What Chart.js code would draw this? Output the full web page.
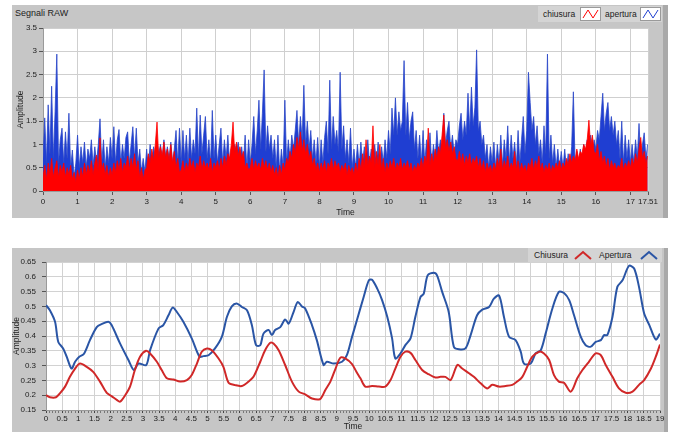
<!DOCTYPE html>
<html><head><meta charset="utf-8">
<script src="https://cdn.jsdelivr.net/npm/chart.js@4"></script>
<style>
body{margin:0;background:#fff;width:676px;height:432px;overflow:hidden;position:relative;font-family:'Liberation Sans',Arial,sans-serif;color:#222;}
.panel{position:absolute;background:#c6c6c6;}
.strip{position:absolute;background:#a9a9a9;}
canvas{position:absolute;}
.txt{position:absolute;font-size:8.5px;line-height:14px;white-space:nowrap;}
.lg{position:absolute;background:#d4d4d4;}
.ico{position:absolute;}
</style></head>
<body>
<div class="panel" style="left:12px;top:5px;width:656px;height:213px"></div>
<div class="strip" style="left:663px;top:5px;width:5px;height:213px"></div>
<div class="panel" style="left:12px;top:248px;width:656px;height:184px"></div>
<div class="strip" style="left:664px;top:248px;width:4px;height:184px"></div>

<div class="txt" style="left:15px;top:6px;font-size:9px">Segnali RAW</div>
<div class="lg" style="left:538px;top:6px;width:124px;height:16px"></div>
<div class="txt" style="left:543px;top:7px">chiusura</div>
<svg class="ico" style="left:580px;top:7px" width="21" height="14"><rect x="0.5" y="0.5" width="20" height="13" fill="#fff" stroke="#9a9a9a"/><polyline points="3,11 8,3 13,11 18,3" fill="none" stroke="#ff0000" stroke-width="1"/></svg>
<div class="txt" style="left:605px;top:7px">apertura</div>
<svg class="ico" style="left:640px;top:7px" width="21" height="14"><rect x="0.5" y="0.5" width="20" height="13" fill="#fff" stroke="#9a9a9a"/><polyline points="3,11 8,3 13,11 18,3" fill="none" stroke="#2040d0" stroke-width="1"/></svg>

<div class="lg" style="left:528px;top:248px;width:134px;height:14px"></div>
<div class="txt" style="left:534px;top:248px">Chiusura</div>
<svg class="ico" style="left:572px;top:249px" width="22" height="12"><polyline points="3,10 11,3 19,10" fill="none" stroke="#d02828" stroke-width="2"/></svg>
<div class="txt" style="left:599px;top:248px">Apertura</div>
<svg class="ico" style="left:638px;top:249px" width="22" height="12"><polyline points="3,10 11,3 19,10" fill="none" stroke="#2a55a5" stroke-width="2"/></svg>

<canvas id="c1" width="656" height="213" style="left:12px;top:5px"></canvas>
<canvas id="c2" width="656" height="184" style="left:12px;top:248px"></canvas>

<script>
// ---------- Top chart: raw signals (sampled every 0.05 s) ----------
const rawStep = 0.05;
const chiusuraRaw = [
0.3,0.55,0.25,0.6,0.35,0.7,0.3,0.5,0.65,0.3,0.55,0.4,0.6,0.3,0.5,0.35,0.55,0.25,0.4,0.2,
0.45,0.25,0.5,0.3,0.6,0.35,0.55,0.4,0.65,0.35,0.6,0.77,0.4,1.14,0.45,0.6,0.35,0.55,0.3,0.5,
0.35,0.6,0.4,0.65,0.45,0.7,0.4,0.6,0.5,0.75,0.45,0.7,0.5,0.8,0.45,0.65,0.3,0.5,0.25,0.45,
0.5,0.8,0.6,0.9,0.65,1.0,1.48,0.7,0.95,0.75,1.05,0.7,0.9,0.65,1.0,0.6,0.85,0.5,0.7,0.4,
0.45,0.65,0.4,0.6,0.45,0.7,0.5,0.65,0.4,0.6,0.5,0.75,0.45,0.65,0.5,0.6,0.45,0.7,0.4,0.6,
0.5,0.65,0.45,0.7,0.5,0.75,0.55,0.8,0.7,1.0,1.48,0.8,1.05,0.75,0.95,0.7,0.85,0.5,0.6,0.45,
0.5,0.7,0.45,0.65,0.5,0.6,0.45,0.7,0.5,0.65,0.45,0.6,0.4,0.55,0.35,0.5,0.3,0.55,0.35,0.6,
0.45,0.7,0.6,0.85,0.7,1.0,0.8,1.15,0.9,1.27,0.85,1.1,0.8,1.0,0.7,0.85,0.55,0.7,0.45,0.6,
0.4,0.6,0.45,0.65,0.4,0.6,0.5,0.7,0.45,0.65,0.5,0.6,0.4,0.55,0.45,0.6,0.35,0.55,0.4,0.5,
0.35,0.6,0.4,0.7,0.45,0.8,0.5,1.1,0.55,0.75,0.6,1.4,0.5,0.85,0.55,1.0,0.45,0.7,0.4,0.6,
0.45,0.65,0.5,0.7,0.45,0.6,0.5,0.7,0.45,0.6,0.5,0.65,0.45,0.6,0.4,0.55,0.45,0.6,0.5,0.7,
0.5,0.75,0.6,1.35,0.55,0.8,0.6,0.9,0.7,0.95,0.8,1.2,1.63,0.9,1.1,0.85,1.05,0.8,0.95,0.7,
0.65,0.85,0.6,0.8,0.55,0.75,0.6,0.8,0.55,0.7,0.6,0.75,0.5,0.7,0.45,0.65,0.4,0.6,0.45,0.55,
0.4,0.6,0.45,0.7,0.5,0.9,0.45,0.65,0.5,0.75,0.45,0.6,0.5,0.85,0.45,0.65,0.4,0.6,0.45,0.55,
0.4,0.6,0.5,0.7,0.45,0.65,0.5,0.75,0.45,0.6,0.4,0.55,0.45,0.6,0.4,0.55,0.45,0.6,0.5,0.65,
0.45,0.6,0.5,0.7,0.55,0.8,0.6,0.75,0.65,0.9,0.7,0.85,0.8,1.0,0.9,1.1,1.52,0.95,1.2,0.85,
0.8,1.0,0.65,0.85,0.6,0.75,0.5,0.7,0.45,0.65,0.5,0.6,0.45,0.55,0.5,0.7,0.45,0.6,0.5,0.65,
0.5,0.7,0.55,0.8,0.6,0.9,1.15,0.7,0.85,0.6,0.75];
const aperturaRaw = [
0.7,1.57,0.6,1.85,0.8,2.25,0.7,1.7,2.94,0.6,1.1,1.35,0.6,1.27,0.7,1.67,0.5,0.88,0.3,0.6,
1.2,0.5,0.95,0.6,1.05,0.5,0.9,0.7,1.1,0.55,0.95,0.6,1.0,1.55,0.6,1.1,0.5,0.95,0.6,1.15,
0.7,1.38,0.6,1.1,1.32,0.6,1.0,0.7,1.15,1.27,0.6,1.0,1.38,0.7,1.35,0.6,0.9,0.4,0.7,0.4,
0.9,0.5,1.0,0.6,0.95,0.7,1.05,0.8,1.0,0.7,1.1,0.75,0.95,0.7,1.05,0.6,0.9,1.3,0.6,1.35,
0.6,1.3,0.7,1.2,0.6,1.35,0.7,1.1,0.8,1.78,0.7,1.63,0.8,1.2,1.6,0.7,1.1,0.6,1.73,0.7,
1.2,0.6,1.0,1.35,0.6,1.1,0.7,1.2,0.6,0.9,0.7,1.0,0.8,1.05,0.7,0.95,0.6,1.2,0.5,1.1,
0.6,1.0,1.6,0.8,1.3,1.95,0.9,1.67,2.6,0.85,1.4,0.9,1.2,0.7,1.1,0.5,1.2,0.4,0.9,0.5,
1.95,0.6,1.1,0.7,1.2,0.9,1.3,1.73,1.0,1.6,1.1,2.27,1.0,1.5,0.9,1.3,0.7,1.1,0.6,1.15,
0.5,1.1,0.6,1.15,1.5,0.8,2.38,0.9,1.6,1.0,1.3,0.85,2.55,0.9,1.4,0.7,1.1,0.6,1.35,0.5,
0.9,0.5,1.0,0.55,1.05,0.6,0.95,0.5,1.1,0.6,0.9,0.55,1.0,0.6,1.05,0.5,0.95,0.6,1.1,0.7,
1.3,0.8,1.78,1.2,2.0,1.2,1.7,1.3,1.5,2.8,1.2,1.9,1.1,1.5,1.7,0.9,1.3,0.7,1.2,0.6,
1.3,0.6,1.1,0.7,1.25,0.6,1.0,0.7,1.3,0.8,1.1,0.9,1.67,1.0,1.3,1.5,0.9,1.2,0.8,1.1,
1.0,1.4,1.67,1.1,1.5,1.2,2.1,1.3,2.23,1.4,1.8,3.03,1.3,1.5,1.0,1.2,0.7,1.0,0.5,0.95,
0.6,1.05,0.5,1.0,0.6,1.2,0.55,1.1,0.7,1.4,0.6,1.2,0.7,1.05,0.55,1.3,0.6,1.1,1.6,0.8,
1.3,2.55,1.9,1.3,1.6,1.0,1.4,0.8,1.1,0.6,1.4,0.8,2.94,0.7,1.2,0.6,1.0,0.5,0.9,0.5,
0.85,0.5,0.9,0.45,0.8,0.5,0.95,2.13,0.6,0.85,0.5,0.9,0.6,1.0,0.7,1.1,0.8,1.2,0.8,1.1,
0.9,1.3,1.1,1.6,2.1,1.3,1.67,1.9,1.3,1.6,1.2,1.5,1.0,1.3,0.7,1.5,0.6,1.2,0.7,1.1,
0.6,1.0,0.6,1.1,0.7,1.45,0.7,1.0,1.25,0.7,1.0];
const rawXTicks = [0,1,2,3,4,5,6,7,8,9,10,11,12,13,14,15,16,17,17.51];
const rawYTicks = [0,0.5,1,1.5,2,2.5,3,3.5];

// ---------- Bottom chart: smoothed envelopes ----------
const chiusuraT = [0,0.12,0.31,0.43,0.59,0.74,0.9,1.05,1.26,1.46,1.67,1.88,2.03,2.19,2.29,2.45,2.6,2.75,2.91,3.1,3.22,3.43,3.58,3.74,3.94,4.15,4.36,4.51,4.67,4.82,4.98,5.13,5.34,5.49,5.65,5.85,6.06,6.27,6.42,6.63,6.78,6.94,7.04,7.2,7.4,7.61,7.82,8.02,8.23,8.48,8.64,8.8,8.96,9.11,9.26,9.47,9.6,9.73,9.88,10.09,10.3,10.5,10.66,10.81,10.97,11.12,11.28,11.43,11.64,11.84,12.05,12.21,12.36,12.52,12.73,12.88,13.09,13.24,13.45,13.65,13.81,14.02,14.22,14.43,14.58,14.74,14.89,15.05,15.26,15.41,15.57,15.72,15.87,16.03,16.24,16.44,16.6,16.8,17.01,17.17,17.32,17.53,17.73,17.94,18.15,18.35,18.51,18.72,18.87,19.0];
const chiusuraV = [0.2,0.193,0.193,0.206,0.229,0.262,0.29,0.307,0.296,0.279,0.246,0.208,0.197,0.184,0.178,0.2,0.229,0.285,0.33,0.35,0.341,0.313,0.285,0.257,0.253,0.246,0.251,0.268,0.307,0.347,0.358,0.352,0.324,0.296,0.242,0.234,0.231,0.246,0.262,0.313,0.352,0.377,0.375,0.352,0.302,0.246,0.212,0.203,0.189,0.187,0.217,0.246,0.29,0.327,0.324,0.305,0.28,0.257,0.229,0.231,0.229,0.229,0.251,0.29,0.33,0.347,0.343,0.319,0.285,0.271,0.26,0.262,0.262,0.251,0.302,0.29,0.274,0.262,0.24,0.223,0.235,0.229,0.231,0.235,0.246,0.262,0.296,0.33,0.347,0.341,0.319,0.268,0.246,0.242,0.212,0.257,0.285,0.313,0.341,0.335,0.302,0.262,0.223,0.208,0.212,0.235,0.251,0.29,0.33,0.371];
const aperturaT = [0,0.12,0.28,0.38,0.53,0.64,0.79,0.9,1.03,1.17,1.36,1.57,1.72,1.93,2.03,2.29,2.55,2.72,2.86,3.1,3.22,3.48,3.63,3.79,3.92,4.05,4.25,4.51,4.75,4.87,5.03,5.23,5.44,5.6,5.75,5.9,6.06,6.22,6.37,6.5,6.63,6.73,6.89,6.99,7.09,7.25,7.4,7.51,7.66,7.79,7.92,8.02,8.23,8.38,8.59,8.69,8.9,9.16,9.31,9.47,9.62,9.83,9.99,10.09,10.25,10.4,10.56,10.71,10.81,10.97,11.12,11.28,11.43,11.59,11.69,11.81,12.0,12.1,12.26,12.46,12.62,12.78,12.98,13.14,13.34,13.5,13.71,13.86,14.02,14.17,14.33,14.53,14.69,14.79,15.0,15.15,15.31,15.46,15.67,15.87,16.03,16.19,16.34,16.55,16.7,16.86,17.01,17.17,17.27,17.37,17.53,17.68,17.84,18.04,18.2,18.35,18.51,18.67,18.87,19.0];
const aperturaV = [0.504,0.487,0.448,0.38,0.358,0.33,0.29,0.313,0.33,0.339,0.386,0.43,0.44,0.448,0.437,0.375,0.319,0.285,0.307,0.302,0.352,0.425,0.437,0.47,0.496,0.481,0.448,0.392,0.33,0.332,0.335,0.358,0.397,0.465,0.5,0.51,0.498,0.487,0.437,0.369,0.369,0.408,0.42,0.403,0.42,0.43,0.456,0.442,0.481,0.515,0.5,0.493,0.437,0.386,0.302,0.313,0.307,0.313,0.335,0.397,0.453,0.532,0.588,0.59,0.56,0.521,0.465,0.392,0.324,0.341,0.369,0.392,0.465,0.532,0.543,0.605,0.614,0.605,0.549,0.482,0.364,0.355,0.358,0.403,0.47,0.489,0.498,0.526,0.537,0.465,0.397,0.386,0.347,0.307,0.307,0.341,0.352,0.408,0.493,0.549,0.545,0.521,0.47,0.397,0.369,0.364,0.38,0.386,0.403,0.403,0.465,0.566,0.588,0.637,0.628,0.566,0.476,0.437,0.388,0.408];
const envXMajor = [0,0.5,1,1.5,2,2.5,3,3.5,4,4.5,5,5.5,6,6.5,7,7.5,8,8.5,9,9.5,10,10.5,11,11.5,12,12.5,13,13.5,14,14.5,15,15.5,16,16.5,17,17.5,18,18.5,19];
const envYTicks = [0.15,0.2,0.25,0.3,0.35,0.4,0.45,0.5,0.55,0.6,0.65];

// ---------- rendering ----------
Chart.defaults.font.family = "'Liberation Sans',Arial,sans-serif";
Chart.defaults.font.size = 8;
Chart.defaults.color = '#222';

const plotBg = {id:'plotBg', beforeDraw(c){const {ctx, chartArea:a} = c; ctx.save(); ctx.fillStyle = '#fff'; ctx.fillRect(a.left, a.top, a.right - a.left, a.bottom - a.top); ctx.restore();}};
const pairs = (ts, vs) => ts.map((t, i) => ({x: t, y: vs[i]}));
const rawPairs = vs => vs.map((v, i) => ({x: +(i * rawStep).toFixed(2), y: v}));

new Chart(document.getElementById('c1'), {
  type: 'line',
  data: {datasets: [
    {label: 'chiusura', data: rawPairs(chiusuraRaw), borderColor: '#ff0000', backgroundColor: '#ff0000', fill: 'origin', borderWidth: 0.8, pointRadius: 0, tension: 0},
    {label: 'apertura', data: rawPairs(aperturaRaw), borderColor: '#2a46c8', backgroundColor: '#1f3ed2', fill: 'origin', borderWidth: 0.8, pointRadius: 0, tension: 0}
  ]},
  options: {
    responsive: false, animation: false, events: [],
    layout: {padding: {top: 23, right: 20, left: 0, bottom: 0}},
    plugins: {legend: {display: false}, tooltip: {enabled: false}},
    scales: {
      x: {type: 'linear', min: 0, max: 17.51,
        afterBuildTicks: s => { s.ticks = rawXTicks.map(v => ({value: v})); },
        afterFit: s => { s.height = 27; },
        ticks: {autoSkip: false, maxRotation: 0, minRotation: 0, padding: 2, callback: v => String(v)},
        grid: {color: '#cfcfcf', tickColor: '#555', tickLength: 4},
        border: {color: '#9a9a9a'},
        title: {display: true, text: 'Time', padding: 0, font: {size: 8.5}}},
      y: {min: 0, max: 3.5,
        afterBuildTicks: s => { s.ticks = rawYTicks.map(v => ({value: v})); },
        afterFit: s => { s.width = 31; },
        ticks: {padding: 2, callback: v => String(v)},
        grid: {color: '#cfcfcf', tickColor: '#555', tickLength: 4},
        border: {color: '#9a9a9a'},
        title: {display: true, text: 'Amplitude', padding: {top: 4, bottom: 0}, font: {size: 8.5}}}
    }
  },
  plugins: [plotBg]
});

const minorTicks = [];
for (let i = 0; i <= 190; i++) minorTicks.push(i / 10);
const isMajor = v => envXMajor.some(m => Math.abs(m - v) < 1e-6);

new Chart(document.getElementById('c2'), {
  type: 'line',
  data: {datasets: [
    {label: 'Chiusura', data: pairs(chiusuraT, chiusuraV), borderColor: '#d02828', borderWidth: 2, pointRadius: 0, tension: 0.3, fill: false},
    {label: 'Apertura', data: pairs(aperturaT, aperturaV), borderColor: '#2a55a5', borderWidth: 2, pointRadius: 0, tension: 0.3, fill: false}
  ]},
  options: {
    responsive: false, animation: false, events: [],
    layout: {padding: {top: 14, right: 8, left: 0, bottom: 0}},
    plugins: {legend: {display: false}, tooltip: {enabled: false}},
    scales: {
      x: {type: 'linear', min: 0, max: 19,
        afterBuildTicks: s => { s.ticks = minorTicks.map(v => ({value: v})); },
        afterFit: s => { s.height = 22; },
        ticks: {autoSkip: false, maxRotation: 0, minRotation: 0, padding: 1,
          callback: v => isMajor(v) ? String(envXMajor.find(m => Math.abs(m - v) < 1e-6)) : ''},
        grid: {color: c => (c.tick && isMajor(c.tick.value)) ? '#d2d2d2' : 'rgba(0,0,0,0)',
               tickColor: c => (c.tick && isMajor(c.tick.value)) ? '#444' : '#777', tickLength: 3},
        border: {color: '#9a9a9a'},
        title: {display: true, text: 'Time', padding: 0, font: {size: 8.5}}},
      y: {min: 0.15, max: 0.65,
        afterBuildTicks: s => { s.ticks = envYTicks.map(v => ({value: v})); },
        afterFit: s => { s.width = 34; },
        ticks: {padding: 6, callback: v => String(v)},
        grid: {color: '#d2d2d2', tickColor: '#555', tickLength: 4},
        border: {color: '#9a9a9a'},
        title: {display: true, text: 'Amplitude', padding: {top: 0, bottom: 0}, font: {size: 8.5}}}
    }
  },
  plugins: [plotBg]
});
</script>
</body></html>
